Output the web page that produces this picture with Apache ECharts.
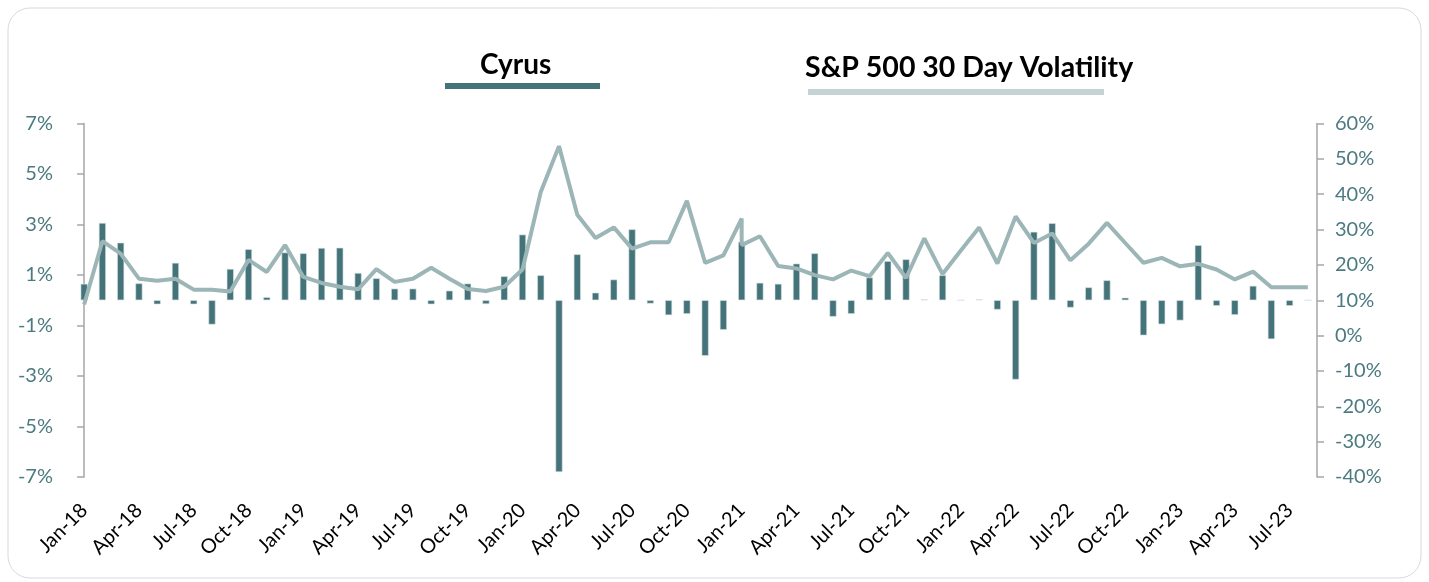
<!DOCTYPE html>
<html><head><meta charset="utf-8">
<script src="https://cdn.jsdelivr.net/npm/echarts@6/dist/echarts.min.js"></script>
<style>html,body{margin:0;padding:0;background:#fff}#c{width:1429px;height:582px}</style>
</head><body><div id="c"></div>
<script>
const months = ['Jan-18','Feb-18','Mar-18','Apr-18','May-18','Jun-18','Jul-18','Aug-18','Sep-18','Oct-18','Nov-18','Dec-18',
'Jan-19','Feb-19','Mar-19','Apr-19','May-19','Jun-19','Jul-19','Aug-19','Sep-19','Oct-19','Nov-19','Dec-19',
'Jan-20','Feb-20','Mar-20','Apr-20','May-20','Jun-20','Jul-20','Aug-20','Sep-20','Oct-20','Nov-20','Dec-20',
'Jan-21','Feb-21','Mar-21','Apr-21','May-21','Jun-21','Jul-21','Aug-21','Sep-21','Oct-21','Nov-21','Dec-21',
'Jan-22','Feb-22','Mar-22','Apr-22','May-22','Jun-22','Jul-22','Aug-22','Sep-22','Oct-22','Nov-22','Dec-22',
'Jan-23','Feb-23','Mar-23','Apr-23','May-23','Jun-23','Jul-23','Aug-23'];
// Cyrus monthly return (%)
const cyrus = [0.65,3.06,2.28,0.67,-0.16,1.48,-0.16,-0.96,1.24,2.02,0.12,1.89,
1.86,2.07,2.08,1.08,0.87,0.46,0.46,-0.16,0.38,0.66,-0.15,0.95,
2.6,0.99,-6.8,1.82,0.3,0.82,2.81,-0.13,-0.59,-0.54,-2.2,-1.17,
2.31,0.69,0.65,1.45,1.86,-0.65,-0.54,0.9,1.55,1.62,0.03,0.99,
0,0.03,-0.37,-3.14,2.71,3.05,-0.29,0.51,0.79,0.1,-1.39,-0.95,
-0.8,2.18,-0.22,-0.58,0.57,-1.54,-0.22,0];
// S&P 500 30 day volatility (%) — month of each point (Jan-21 has two readings)
const volMonths = months.slice(0, 37).concat(['Jan-21'], months.slice(37));
const vol = [8.8,26.7,23.2,16.1,15.5,16.1,13.0,13.0,12.5,21.4,18.0,25.6,
16.6,14.9,13.8,13.1,18.8,15.2,16.1,19.2,16.1,13.2,12.6,13.8,
18.7,40.6,53.6,34.2,27.6,30.6,24.6,26.4,26.4,38.1,20.6,22.7,
33.1,25.6,28.1,19.7,19.0,17.1,15.9,18.4,16.8,23.4,16.3,27.5,17.4,
24.1,30.6,20.4,33.7,26.2,28.9,21.3,26.0,31.9,26.2,20.6,22.0,
19.6,20.3,18.7,15.9,18.1,13.7,13.7,13.7];
const seriesNames = ['Cyrus','S&P 500 30 Day Volatility'];

const volData = vol.map((v, i) => [months.indexOf(volMonths[i]), v]);

const chart = echarts.init(document.getElementById('c'));
const tealDark = '#45737a', lineCol = '#9cb5b6', axisTxt = '#4b7a80', axisLineCol = '#a6a6a6';
const fontFam = 'Lato, "Open Sans", sans-serif';
chart.setOption({
  backgroundColor: '#fff',
  animation: false,
  graphic: [
    {type:'rect', shape:{x:8,y:8,width:1413,height:570,r:22}, style:{fill:'none',stroke:'#d9d9d9',lineWidth:1}, silent:true, z:-1},
    {type:'text', left:480, top:51, style:{text:seriesNames[0], font:'bold 28px '+fontFam, fill:'#000'}},
    {type:'rect', shape:{x:445,y:83,width:155,height:6}, style:{fill:tealDark}},
    {type:'text', left:805, top:53, style:{text:seriesNames[1], font:'bold 28.5px '+fontFam, fill:'#000'}},
    {type:'rect', shape:{x:808,y:89,width:296,height:6}, style:{fill:'#c6d3d4'}}
  ],
  grid: {left:75, right:112, top:123.5, bottom:105, containLabel:false},
  xAxis: [{
    type:'category', data: months, boundaryGap:true,
    axisLine:{show:false, onZero:false}, axisTick:{show:false},
    axisLabel:{interval:2, rotate:45, fontSize:20, color:'#000', fontFamily:fontFam, margin:30}
  }, {
    type:'value', min:-0.5, max:months.length - 0.5, show:false
  }],
  yAxis: [
    {type:'value', min:-7, max:7, interval:2, splitLine:{show:false},
     axisLine:{show:true, lineStyle:{color:axisLineCol, width:1.5}},
     axisTick:{show:true, length:7, lineStyle:{color:axisLineCol, width:1.5}},
     axisLabel:{formatter: v => v + '%', fontSize:20, color:axisTxt, fontFamily:fontFam, margin:22}},
    {type:'value', min:-40, max:60, interval:10, splitLine:{show:false}, position:'right',
     axisLine:{show:true, lineStyle:{color:axisLineCol, width:1.5}},
     axisTick:{show:true, length:7, lineStyle:{color:axisLineCol, width:1.5}},
     axisLabel:{formatter: v => v + '%', fontSize:20, color:axisTxt, fontFamily:fontFam, margin:18}}
  ],
  series: [
    {name:seriesNames[0], type:'bar', xAxisIndex:0, yAxisIndex:0, data: cyrus, barWidth:7,
     itemStyle:{color:tealDark, borderColor:'#d5e0e0', borderWidth:0.6}},
    {name:seriesNames[1], type:'line', xAxisIndex:1, yAxisIndex:1, data: volData, showSymbol:false, symbol:'none',
     lineStyle:{color:lineCol, width:4}, z:5}
  ]
});
</script></body></html>
